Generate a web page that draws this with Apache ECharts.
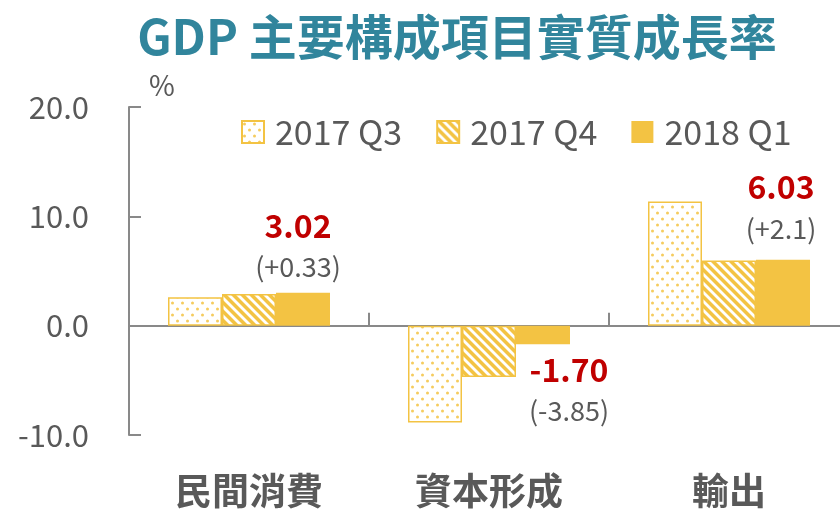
<!DOCTYPE html>
<html>
<head>
<meta charset="utf-8">
<script src="https://cdn.jsdelivr.net/npm/echarts@6/dist/echarts.min.js"></script>
<style>
html,body{margin:0;padding:0;background:#fff;overflow:hidden;}
#chart{width:860px;height:515px;}
</style>
</head>
<body>
<div id="chart"></div>
<script>
const titleText = 'GDP 主要構成項目實質成長率';
const categories = ['民間消費', '資本形成', '輸出'];
const seriesNames = ['2017 Q3', '2017 Q4', '2018 Q1'];
const q3Values = [2.6, -8.85, 11.35];
const q4Values = [2.9, -4.7, 5.95];
const q1Values = [3.02, -1.70, 6.03];
const q1Changes = ['(+0.33)', '(-3.85)', '(+2.1)'];
const yTicks = [-10, 0, 10, 20];

const FONT = '"Noto Sans CJK TC", "Noto Sans", sans-serif';
const YEL = '#F3C343';
const GRAY = '#595959';
const AXIS = '#898989';

function makeTile(w, h, fn) {
  const c = document.createElement('canvas');
  c.width = w; c.height = h;
  const ctx = c.getContext('2d');
  fn(ctx, w, h);
  return c;
}
const dotTile = makeTile(10, 12, function (ctx, w, h) {
  ctx.fillStyle = '#ffffff';
  ctx.fillRect(0, 0, w, h);
  ctx.fillStyle = '#F5CC5E';
  [[2.5, 3], [7.5, 9]].forEach(function (p) {
    ctx.beginPath();
    ctx.arc(p[0], p[1], 1.5, 0, Math.PI * 2);
    ctx.fill();
  });
});
const stripeTile = makeTile(9, 9, function (ctx, w, h) {
  const img = ctx.createImageData(w, h);
  for (let y = 0; y < h; y++) {
    for (let x = 0; x < w; x++) {
      const k = ((x - y) % 9 + 9) % 9;
      const i = (y * w + x) * 4;
      let r = 255, g = 255, b = 255;
      if (k < 4) { r = 0xF3; g = 0xC3; b = 0x43; }
      else if (k === 4 || k === 8) { r = 0xF9; g = 0xE1; b = 0xA1; }
      img.data[i] = r; img.data[i + 1] = g; img.data[i + 2] = b; img.data[i + 3] = 255;
    }
  }
  ctx.putImageData(img, 0, 0);
});

const chart = echarts.init(document.getElementById('chart'), null, {renderer: 'canvas'});

const q1Data = q1Values.map(function (v, i) {
  const neg = v < 0;
  return {
    value: v,
    label: {
      show: true,
      position: neg ? 'bottom' : 'top',
      distance: i === 2 ? 11 : 5,
      offset: neg ? [26, 0] : [i === 2 ? -2 : -5, 0],
      formatter: '{v|' + v.toFixed(2) + '}\n{c|' + q1Changes[i] + '}',
      rich: {
        v: {fontFamily: FONT, fontSize: 32, fontWeight: 'bold', color: '#C00000', lineHeight: 41, align: 'center'},
        c: {fontFamily: FONT, fontSize: 27, color: GRAY, lineHeight: 41, align: 'center'}
      }
    }
  };
});

const option = {
  animation: false,
  backgroundColor: '#ffffff',
  title: {
    text: titleText,
    left: 452,
    textAlign: 'center',
    top: 8,
    textStyle: {fontFamily: FONT, fontSize: 48, fontWeight: 'bold', color: '#31859C'}
  },
  legend: {
    data: seriesNames,
    left: 236,
    top: 110,
    itemWidth: 22,
    itemHeight: 22,
    itemGap: 34,
    icon: 'rect',
    textStyle: {fontFamily: FONT, fontSize: 34, color: GRAY, padding: [0, 0, 0, 6]}
  },
  grid: {left: 129, width: 720, top: 107, height: 328},
  xAxis: [
    {
      type: 'category',
      data: categories,
      position: 'bottom',
      axisLine: {show: false, onZero: false},
      axisTick: {show: false},
      axisLabel: {fontFamily: FONT, fontSize: 37, fontWeight: 'bold', color: GRAY, margin: 37}
    },
    {
      type: 'category',
      data: categories,
      position: 'bottom',
      axisLine: {show: true, onZero: true, lineStyle: {color: AXIS, width: 2}},
      axisTick: {show: true, inside: true, length: 13, lineStyle: {color: AXIS, width: 2}},
      axisLabel: {show: false}
    }
  ],
  yAxis: {
    type: 'value',
    min: yTicks[0],
    max: yTicks[yTicks.length - 1],
    interval: 10,
    name: '%',
    nameLocation: 'end',
    nameGap: 8,
    nameTextStyle: {fontFamily: FONT, fontSize: 28, color: GRAY, align: 'left', padding: [0, 0, 0, 20]},
    axisLine: {show: true, lineStyle: {color: AXIS, width: 2}},
    axisTick: {show: true, inside: true, length: 12, lineStyle: {color: AXIS, width: 2}},
    splitLine: {show: false},
    axisLabel: {
      fontFamily: FONT, fontSize: 31, color: GRAY, margin: 40,
      formatter: function (v) { return v.toFixed(1); }
    }
  },
  series: [
    {
      name: seriesNames[0], type: 'bar', data: q3Values,
      barWidth: 54, barGap: '0%',
      itemStyle: {color: {image: dotTile, repeat: 'repeat'}, borderColor: YEL, borderWidth: 1.5}
    },
    {
      name: seriesNames[1], type: 'bar', data: q4Values,
      barWidth: 54, barGap: '0%',
      itemStyle: {color: {image: stripeTile, repeat: 'repeat'}, borderColor: YEL, borderWidth: 1.5}
    },
    {
      name: seriesNames[2], type: 'bar', data: q1Data,
      barWidth: 54, barGap: '0%',
      itemStyle: {color: YEL}
    }
  ]
};
chart.setOption(option);
</script>
</body>
</html>
